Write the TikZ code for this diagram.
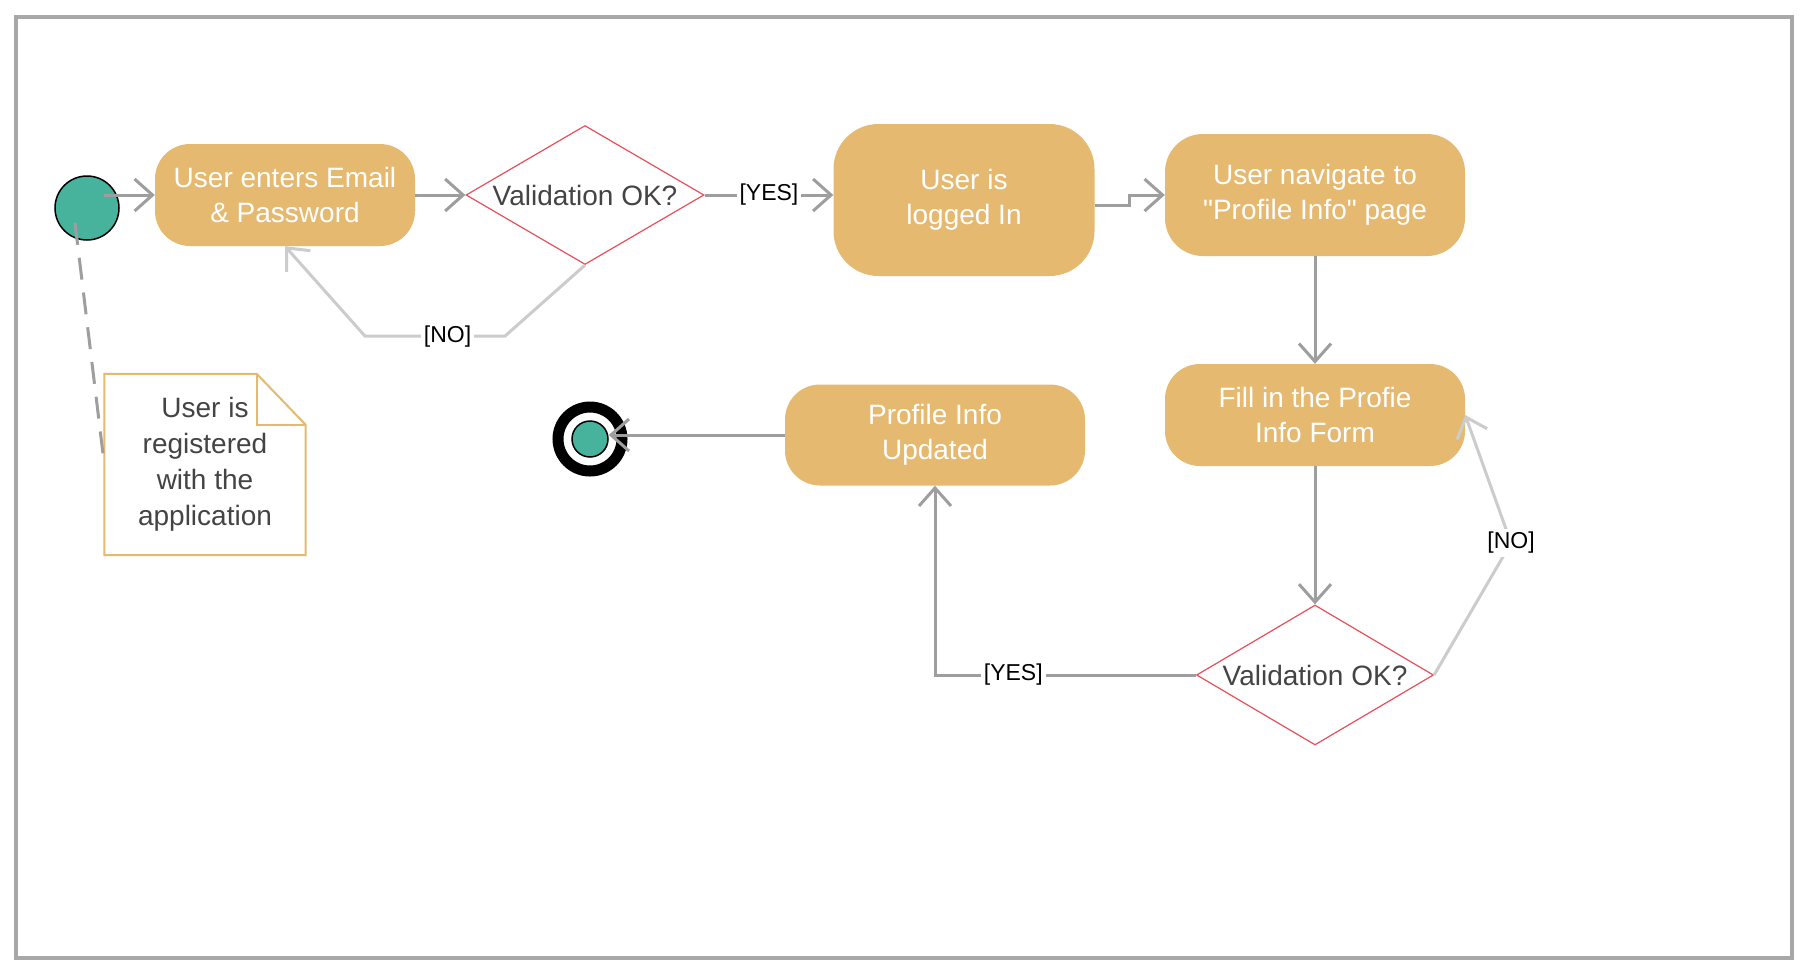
\documentclass[tikz,border=0pt]{standalone}
\usepackage{fontspec}
\setmainfont{Liberation Sans}[Ligatures=TeXOff]
\usetikzlibrary{shapes.geometric,arrows.meta}
\definecolor{actfill}{HTML}{E5B970}
\definecolor{linegray}{HTML}{9E9E9E}
\definecolor{nogray}{HTML}{CCCCCC}
\definecolor{decred}{HTML}{E8505B}
\definecolor{startgreen}{HTML}{47B39D}
\definecolor{txtgray}{HTML}{444444}
\begin{document}
\begin{tikzpicture}[x=1pt,y=-1pt,
    act/.style={rectangle,rounded corners=35pt,fill=actfill,text=white,align=center,
      font=\fontsize{28}{35}\selectfont,minimum width=300pt,minimum height=102pt,inner sep=0pt},
    decision/.style={diamond,draw=decred,line width=1.2pt,text=txtgray,font=\fontsize{28}{35}\selectfont,
      aspect=1.7,inner sep=0pt,minimum width=238pt,minimum height=139pt},
    flow/.style={draw=linegray,line width=3pt,-{Straight Barb[length=18pt,width=32pt]}},
    noflow/.style={flow,draw=nogray},
    lbl/.style={fill=white,inner sep=3pt,text=black,font=\fontsize{23}{27}\selectfont}]
    \fill[white] (0,0) rectangle (1810,970);
    \useasboundingbox (0,0) rectangle (1810,970);
    \draw[linegray!90!white,line width=3.5pt] (16,17) rectangle (1792,958);
    \node[circle,fill=startgreen,draw=black,line width=1.5pt,minimum size=64pt,inner sep=0pt] (start) at (87,208) {};
    \node[act,minimum width=260pt] (enter) at (285,195) {User enters Email\\\& Password};
    \node[decision] (val1) at (585,195) {Validation OK?};
    \node[act,minimum width=261pt,minimum height=152pt,rounded corners=45pt] (logged) at (964,200) {User is\\logged In};
    \node[act,minimum height=122pt,rounded corners=38pt] (nav) at (1315,195) {User navigate to\\"Profile Info" page};
    \node[act] (fill) at (1315,415) {Fill in the Profie\\Info Form};
    \node[decision,minimum width=237pt,minimum height=140pt] (val2) at (1315,675) {Validation OK?};
    \node[act,minimum height=101pt] (updated) at (935,435) {Profile Info\\Updated};
    \node[circle,fill=startgreen,draw=black,line width=1.5pt,minimum size=36pt,inner sep=0pt] (final) at (590,439) {};
    \draw[line width=11pt] (final.center) circle[radius=32pt];
    \node[text=txtgray,align=center,font=\fontsize{28}{36}\selectfont,minimum width=201pt,minimum height=181pt,inner sep=0pt] (note) at (205,464.5) {User is\\registered\\with the\\application};
    \draw[actfill,line width=2pt] (note.south west) -- (note.north west) -- ([xshift=-49pt]note.north east) -- ([yshift=-51pt]note.north east) -- (note.south east) -- cycle;
    \draw[actfill,line width=2pt] ([xshift=-49pt]note.north east) |- ([yshift=-51pt]note.north east);
    \draw[flow] ([xshift=17pt,yshift=13pt]start.center) -- (enter.west);
    \draw[flow] (enter.east) -- (val1.west);
    \draw[flow] (val1.east) -- (val1.east -| logged.west) node[midway,lbl] (yes1) {[YES]};
    \draw[flow] ([yshift=-5pt]logged.east) -- ++(35,0) |- (nav.west);
    \draw[flow] (nav.south) -- (fill.north);
    \draw[flow] (fill.south) -- (val2.north);
    \draw[flow] (val2.west) -| (updated.south) node[pos=0.35,lbl] (yes2) {[YES]};
    \draw[flow] (updated.west) -- (updated.west -| final.east);
    \draw[noflow] (val2.east) -- (1511,543) node[lbl] (no2) {[NO]} -- (fill.east);
    \draw[noflow] (val1.south) -- ++(-80,71) -- ++(-140,0) node[pos=0.41,lbl] (no1) {[NO]} -- (enter.south);
    \draw[linegray,line width=3pt,dash pattern=on 22pt off 13pt] ([xshift=-12pt,yshift=-15pt]start.center) -- (note.west);
\end{tikzpicture}
\end{document}
